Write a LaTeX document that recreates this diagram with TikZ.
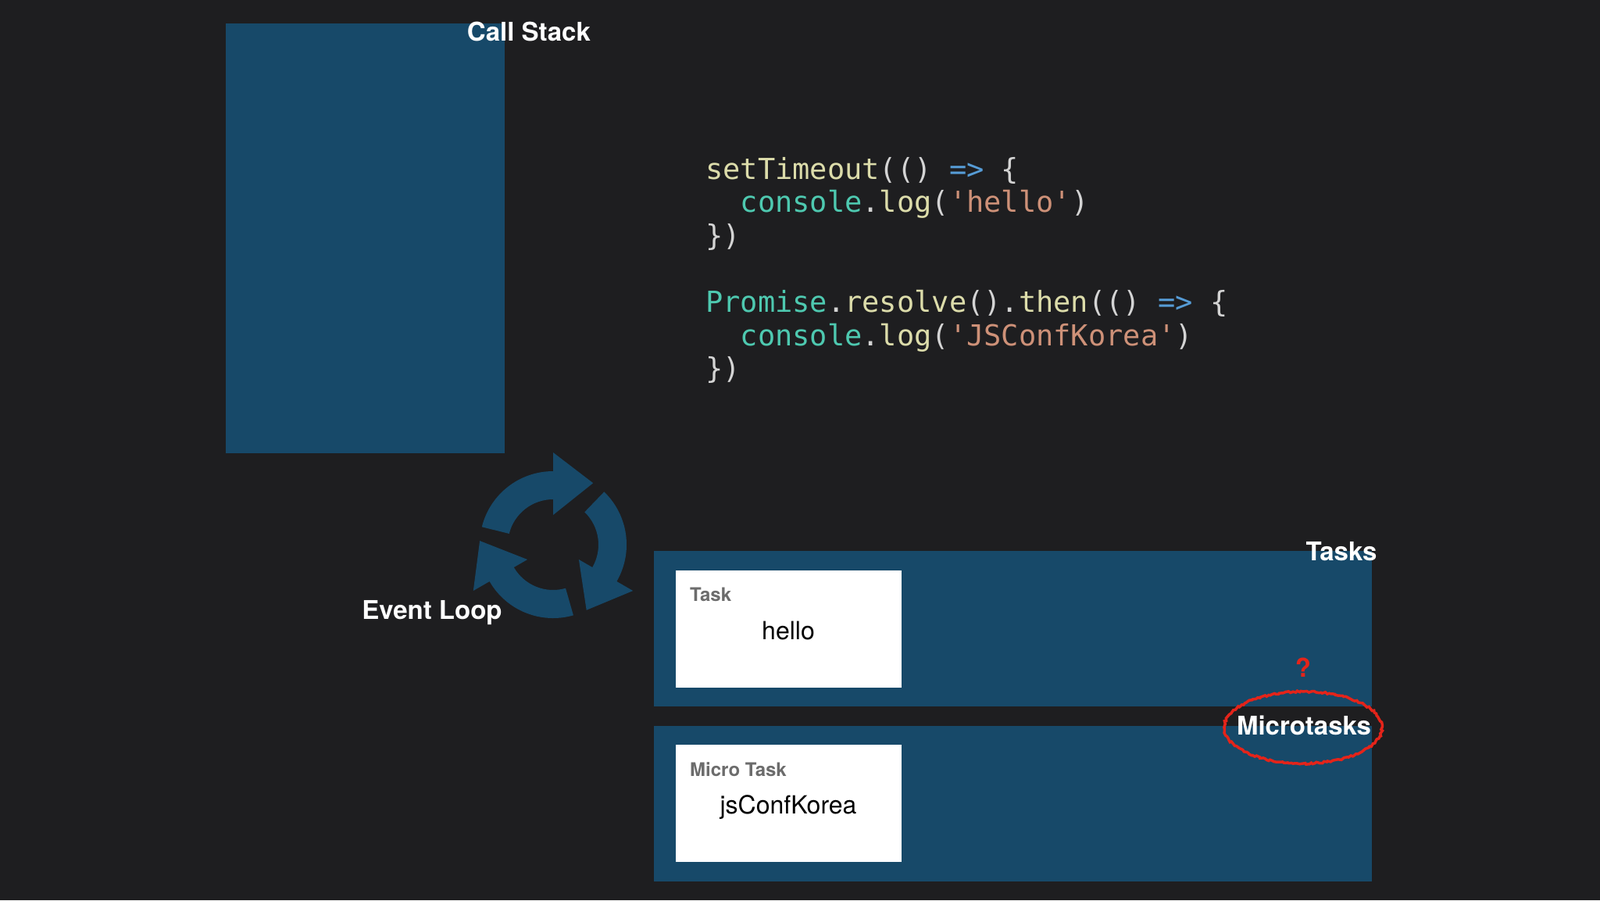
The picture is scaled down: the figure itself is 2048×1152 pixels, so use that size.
\documentclass[tikz,border=0pt]{standalone}
\usepackage{fontspec}
\setmainfont{TeX Gyre Heros}
\setmonofont{DejaVu Sans Mono}
\usetikzlibrary{decorations.pathmorphing}
\definecolor{bgdark}{RGB}{30,30,32}
\definecolor{stackblue}{RGB}{23,73,105}
\definecolor{cardgrey}{RGB}{108,108,108}
\definecolor{markred}{RGB}{228,36,26}
\definecolor{codefn}{HTML}{DCDCAA}
\definecolor{codety}{HTML}{4EC9B0}
\definecolor{codekw}{HTML}{569CD6}
\definecolor{codest}{HTML}{CE9178}
\definecolor{codepu}{HTML}{D4D4D4}
\newcommand\cfn[1]{\textcolor{codefn}{#1}}
\newcommand\cty[1]{\textcolor{codety}{#1}}
\newcommand\ckw[1]{\textcolor{codekw}{#1}}
\newcommand\cst[1]{\textcolor{codest}{#1}}
\newcommand\cpu[1]{\textcolor{codepu}{#1}}
\begin{document}
\begin{tikzpicture}[x=1pt, y=-1pt,
  panel/.style={fill=stackblue},
  card/.style={fill=white},
  title/.style={text=white, font=\bfseries\fontsize{33}{40}\selectfont, inner sep=0pt, anchor=base},
  cardtitle/.style={text=cardgrey, font=\bfseries\fontsize{24}{29}\selectfont, inner sep=0pt, anchor=base west},
  cardtext/.style={text=black, font=\fontsize{32}{38}\selectfont, inner sep=0pt, anchor=base},
  codeline/.style={font=\ttfamily\fontsize{37}{43}\selectfont, inner sep=0pt, anchor=base west}]
\fill[bgdark] (0,0) rectangle (2048,1152);
\useasboundingbox (0,0) rectangle (2048,1152);
% call stack
\fill[panel] (289,30) rectangle (646,580);
\node[title] (stacklabel) at (677,52) {Call Stack};
% code
\node[codeline] (code1) at (903,229) {\cfn{setTimeout}\cpu{(()} \ckw{=>} \cpu{\{}};
\node[codeline] (code2) at (903,271.6) {\phantom{xx}\cty{console}\cpu{.}\cfn{log}\cpu{(}\cst{'hello'}\cpu{)}};
\node[codeline] (code3) at (903,314.2) {\cpu{\})}};
\node[codeline] (code5) at (903,399.4) {\cty{Promise}\cpu{.}\cfn{resolve}\cpu{().}\cfn{then}\cpu{(()} \ckw{=>} \cpu{\{}};
\node[codeline] (code6) at (903,442) {\phantom{xx}\cty{console}\cpu{.}\cfn{log}\cpu{(}\cst{'JSConfKorea'}\cpu{)}};
\node[codeline] (code7) at (903,484.6) {\cpu{\})}};
% event loop
\begin{scope}[shift={(708,697)}, yscale=-1]
\foreach \b in {90,-30,210}
{
	\fill[stackblue] (\b+76:94) arc[start angle=\b+76, end angle=\b, radius=94]
		-- (\b:118) -- (\b-33:94) -- (\b:38) -- (\b:58)
		arc[start angle=\b, end angle=\b+76, radius=58] -- cycle;
}
\end{scope}
\node[title] (looplabel) at (553,792) {Event Loop};
% queues
\fill[panel] (837,705) rectangle (1756,904);
\fill[panel] (837,929) rectangle (1756,1128);
\fill[card] (865,730) rectangle (1154,880);
\fill[card] (865,953) rectangle (1154,1103);
\node[cardtitle] (tasktitle) at (883,769) {Task};
\node[cardtext] (tasktext) at (1009,818) {hello};
\node[cardtitle] (microtitle) at (883,993) {Micro Task};
\node[cardtext] (microtext) at (1009,1041) {jsConfKorea};
\node[title] (tasklabel) at (1717,717) {Tasks};
\node[text=markred, font=\bfseries\fontsize{33}{40}\selectfont, inner sep=0pt, anchor=base] (question) at (1668,866) {?};
\draw[markred, line width=3.5pt, decorate, decoration={random steps, segment length=2.5pt, amplitude=1.1pt}] (1668,931) ellipse [x radius=101, y radius=46];
\node[title] (microlabel) at (1669,940) {Microtasks};
\end{tikzpicture}
\end{document}
